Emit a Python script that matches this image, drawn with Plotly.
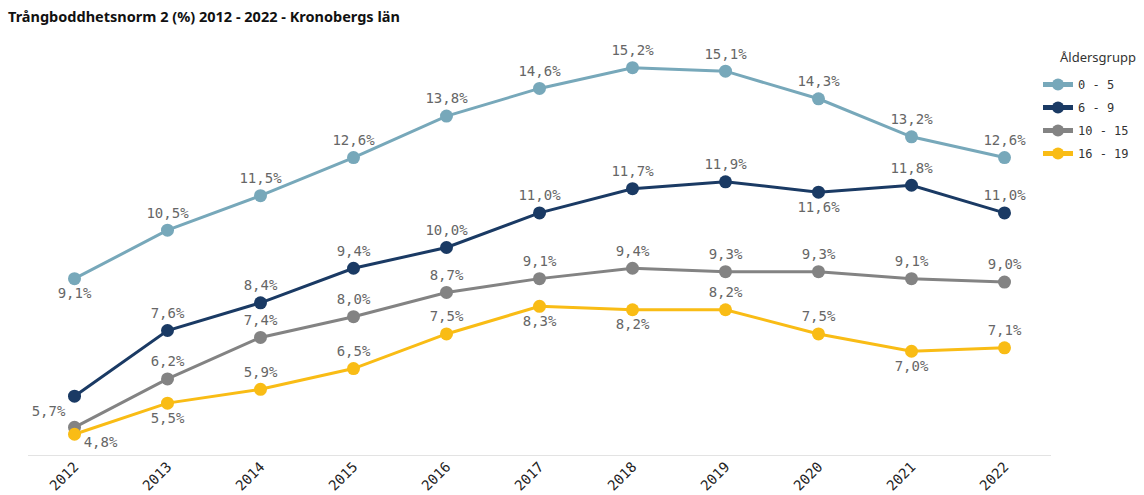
import plotly.graph_objects as go

years = [2012, 2013, 2014, 2015, 2016, 2017, 2018, 2019, 2020, 2021, 2022]

group_names = ["0 - 5", "6 - 9", "10 - 15", "16 - 19"]
values_0_5 = [9.1, 10.5, 11.5, 12.6, 13.8, 14.6, 15.2, 15.1, 14.3, 13.2, 12.6]
values_6_9 = [5.7, 7.6, 8.4, 9.4, 10.0, 11.0, 11.7, 11.9, 11.6, 11.8, 11.0]
values_10_15 = [4.8, 6.2, 7.4, 8.0, 8.7, 9.1, 9.4, 9.3, 9.3, 9.1, 9.0]
values_16_19 = [4.6, 5.5, 5.9, 6.5, 7.5, 8.3, 8.2, 8.2, 7.5, 7.0, 7.1]

colors = ["#77A8BA", "#1A3A64", "#838383", "#F9BC15"]

# where each value label sits relative to its point
positions = [
    ["bottom center"] + ["top center"] * 10,
    ["bottom left"] + ["top center"] * 7 + ["bottom center", "top center", "top center"],
    ["bottom right"] + ["top center"] * 10,
    ["bottom center", "bottom center", "top center", "top center", "top center",
     "bottom center", "bottom center", "top center", "top center", "bottom center", "top center"],
]


def fmt(v):
    return f"{v:.1f}%".replace(".", ",")


fig = go.Figure()

series = [values_0_5, values_6_9, values_10_15, values_16_19]
for i, vals in enumerate(series):
    labels = [fmt(v) for v in vals]
    if i == 3:
        labels[0] = ""  # hidden in the original (overlaps)
    fig.add_trace(go.Scatter(
        x=years, y=vals, name=group_names[i], legendgroup=group_names[i],
        mode="lines+markers+text",
        line=dict(color=colors[i], width=3),
        marker=dict(color=colors[i], size=13),
        text=labels, textposition=positions[i],
        textfont=dict(family="DejaVu Sans Mono", size=14, color="#666666"),
        cliponaxis=False,
    ))

fig.update_layout(
    width=1144, height=495,
    margin=dict(l=28, r=93, t=40, b=40, autoexpand=False),
    paper_bgcolor="white", plot_bgcolor="white",
    title=dict(text="<b>Trångboddhetsnorm 2 (%) 2012 - 2022 - Kronobergs län</b>",
               x=0.007, xanchor="left", y=0.966, yanchor="middle",
               font=dict(family="Noto Sans", size=14.5, color="#111")),
    xaxis=dict(range=[2011.5, 2022.5], tickvals=years, tickangle=-45,
               showgrid=False, zeroline=False, showline=True, linecolor="#e3e3e3",
               tickfont=dict(family="DejaVu Sans Mono", size=14, color="#222"),
               automargin=False, ticks="", ticklabelstandoff=-3),
    yaxis=dict(range=[4, 16], visible=False, showgrid=False, zeroline=False),
    legend=dict(xref="container", yref="container",
                x=1038 / 1144, xanchor="left", y=1 - 70 / 495, yanchor="top",
                font=dict(family="DejaVu Sans Mono", size=12, color="#333"),
                itemwidth=30, itemsizing="constant", tracegroupgap=4),
    annotations=[dict(text="Åldersgrupp", xref="paper", yref="paper",
                      x=(1058 - 28) / 1023, y=1 - (57 - 40) / 415,
                      xanchor="left", yanchor="middle", showarrow=False,
                      font=dict(family="Noto Sans", size=13, color="#333"))],
    showlegend=True,
)

fig.write_html("out.html", config={"displayModeBar": False},
               post_script="document.body.style.margin='0';")
